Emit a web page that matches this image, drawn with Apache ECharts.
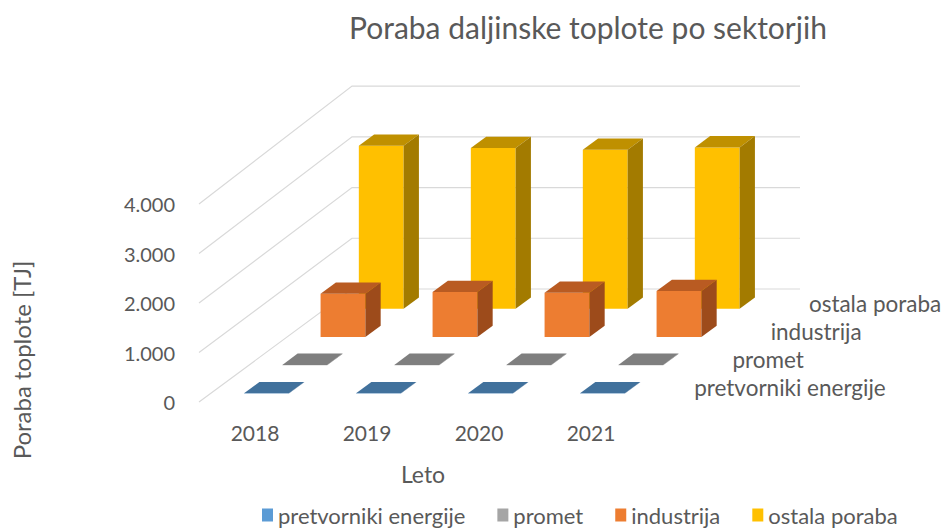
<!DOCTYPE html>
<html>
<head>
<meta charset="utf-8">
<script src="https://cdn.jsdelivr.net/npm/echarts/dist/echarts.min.js"></script>
<style>
  html, body { margin: 0; padding: 0; background: #fff; }
  #chart { width: 944px; height: 529px; }
</style>
</head>
<body>
<div id="chart"></div>
<script>
// podatki
const years = ['2018', '2019', '2020', '2021'];
const sectors = ['pretvorniki energije', 'promet', 'industrija', 'ostala poraba'];
const pretvorniki = [5, 5, 5, 5];
const promet = [8, 8, 8, 8];
const industrija = [862, 896, 882, 916];
const ostala = [3228, 3180, 3149, 3194];
const yTicks = [0, 1000, 2000, 3000, 4000];

// barve: sprednja ploskev, zgornja, stranska
const faceColors = [
  ['#5B9BD5', '#41719C', '#35618A'],
  ['#A5A5A5', '#7F7F7F', '#6E6E6E'],
  ['#ED7D31', '#B95B22', '#9D4B1B'],
  ['#FFC000', '#BF9000', '#A37B00']
];

// 3D globina (pikslov do zadnje stene)
const DX = 153, DY = -113;
const ROWS = sectors.length;
const textColor = '#595959';

function fmt(v) {
  return String(v).replace(/\B(?=(\d{3})+(?!\d))/g, '.');
}

function barRenderer(row) {
  const c = faceColors[row];
  return function (params, api) {
    const cat = api.value(0), v = api.value(1);
    const base = api.coord([cat, 0]);
    const top = api.coord([cat, v]);
    const band = api.size([1, 0])[0];
    const d0 = (row + 0.3) / ROWS, d1 = (row + 0.7) / ROWS;
    const h = (base[1] - top[1]) * (1 + 0.025 * d0);
    const w = band * 0.4;
    const fx = base[0] - w / 2 + d0 * DX;
    const by = base[1] + d0 * DY;
    const ty = by - h;
    const ddx = (d1 - d0) * DX, ddy = (d1 - d0) * DY;
    return {
      type: 'group',
      children: [
        { type: 'rect', shape: { x: fx, y: ty, width: w, height: h }, style: { fill: c[0] } },
        { type: 'polygon', shape: { points: [[fx, ty], [fx + w, ty], [fx + w + ddx, ty + ddy], [fx + ddx, ty + ddy]] }, style: { fill: c[1] } },
        { type: 'polygon', shape: { points: [[fx + w, ty], [fx + w + ddx, ty + ddy], [fx + w + ddx, by + ddy], [fx + w, by]] }, style: { fill: c[2] } }
      ]
    };
  };
}

function gridRenderer(params, api) {
  const v = api.value(1);
  const p = api.coord([0, v]);
  const y0 = api.coord([0, 0])[1];
  const band = api.size([1, 0])[0];
  const left = p[0] - band / 2;
  const right = left + band * years.length;
  const yBack = y0 + DY - (y0 - p[1]) * 1.025;
  return {
    type: 'polyline',
    shape: { points: [[left, p[1]], [left + DX, yBack], [right + DX, yBack]] },
    style: { stroke: '#D9D9D9', lineWidth: 1.2, fill: null }
  };
}

function depthLabelRenderer(params, api) {
  const i = api.value(2);
  const p = api.coord([years.length - 1, 0]);
  const band = api.size([1, 0])[0];
  const d = (i + 0.5) / ROWS;
  return {
    type: 'text',
    style: {
      text: sectors[i],
      x: p[0] + band / 2 + d * DX + 28,
      y: p[1] + d * DY,
      fill: textColor,
      font: '22.5px Lato',
      align: 'left',
      verticalAlign: 'middle'
    }
  };
}

const seriesValues = [pretvorniki, promet, industrija, ostala];

const chart = echarts.init(document.getElementById('chart'), null, { renderer: 'svg' });

const series = [
  {
    type: 'custom', name: 'mreza', silent: true, z: 1, clip: false,
    xAxisIndex: 0, yAxisIndex: 0,
    data: yTicks.map(v => [0, v]),
    renderItem: gridRenderer
  }
];
seriesValues.forEach((vals, row) => {
  series.push({
    type: 'custom',
    name: sectors[row],
    xAxisIndex: 0, yAxisIndex: 0,
    z: 5 - row,
    clip: false,
    itemStyle: { color: faceColors[row][0] },
    data: vals.map((v, i) => [i, v]),
    renderItem: barRenderer(row)
  });
});
series.push({
  type: 'custom', name: 'sektorji', silent: true, z: 9, clip: false,
  xAxisIndex: 0, yAxisIndex: 0,
  data: sectors.map((s, i) => [years.length - 1, 0, i]),
  renderItem: depthLabelRenderer
});

chart.setOption({
  animation: false,
  textStyle: { fontFamily: 'Lato' },
  title: {
    text: 'Poraba daljinske toplote po sektorjih',
    left: 349, top: 12, padding: 0,
    textStyle: { fontSize: 30, fontWeight: 'normal', color: textColor, fontFamily: 'Lato' }
  },
  legend: {
    data: sectors,
    left: 262, top: 504, padding: 0,
    icon: 'rect', itemWidth: 11, itemHeight: 13, itemGap: 32,
    textStyle: { fontSize: 22, color: textColor, fontFamily: 'Lato' }
  },
  grid: [
    { left: 199, top: 204, width: 448, height: 198 },
    { left: 199, top: 318, width: 448, height: 84 }
  ],
  xAxis: [
    {
      gridIndex: 0, type: 'category', data: years,
      axisLine: { show: false }, axisTick: { show: false },
      axisLabel: { fontSize: 21, color: textColor, margin: 20 },
      name: 'Leto', nameLocation: 'middle', nameGap: 60,
      nameTextStyle: { fontSize: 23, color: textColor }
    },
    { gridIndex: 1, type: 'category', data: years, show: false }
  ],
  yAxis: [
    {
      gridIndex: 0, type: 'value', min: 0, max: 4000, interval: 1000,
      axisLine: { show: false }, axisTick: { show: false }, splitLine: { show: false },
      axisLabel: { fontSize: 20, color: textColor, margin: 24, formatter: fmt }
    },
    {
      gridIndex: 1, type: 'value',
      axisLine: { show: false }, axisTick: { show: false }, splitLine: { show: false },
      axisLabel: { show: false },
      name: 'Poraba toplote [TJ]', nameLocation: 'middle', nameRotate: 90, nameGap: 166,
      nameTextStyle: { fontSize: 24, color: textColor }
    }
  ],
  series: series
});
</script>
</body>
</html>
